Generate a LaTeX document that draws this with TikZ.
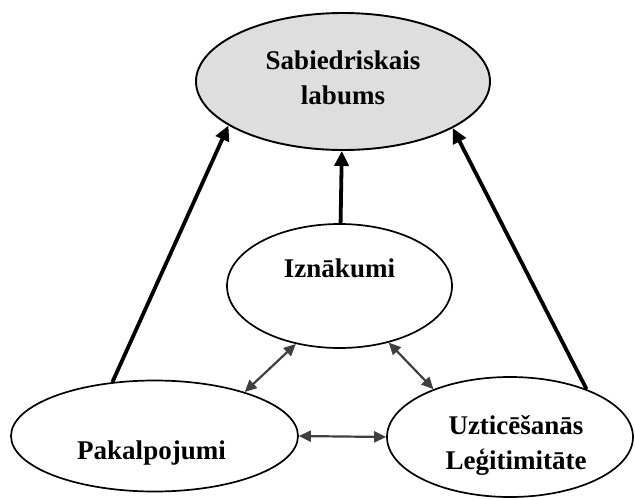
\documentclass[tikz,border=0pt]{standalone}
\usepackage{fontspec}
\setmainfont{Liberation Serif}
\usepackage{tikz}
\usetikzlibrary{arrows.meta,shapes.geometric}
\definecolor{ovalgray}{RGB}{222,222,222}
\definecolor{linkgray}{RGB}{64,64,64}

\begin{document}
\begin{tikzpicture}[x=1pt,y=-1pt,
  oval/.style={ellipse, draw, line width=1.7pt, inner sep=0pt},
  txt/.style={font=\fontsize{27}{35}\selectfont\bfseries, align=center, inner sep=0pt},
  mainarrow/.style={line width=3.8pt, -{Triangle[length=15pt,width=14pt]}},
  linkarrow/.style={linkgray, line width=2.2pt, {Triangle[length=12pt,width=11pt]}-{Triangle[length=12pt,width=11pt]}}]
\useasboundingbox (0,0) rectangle (635,499);
\node[oval, fill=ovalgray, line width=1.9pt, minimum width=294pt, minimum height=137pt] (sab) at (343,81.5) {};
\node[oval, minimum width=225pt, minimum height=124pt] (izn) at (339.5,286) {};
\node[oval, minimum width=287pt, minimum height=111pt] (pak) at (154.5,436) {};
\node[oval, minimum width=246pt, minimum height=120pt] (uzt) at (510,437) {};
\node[txt] (sabText) at ([yshift=4pt]sab.center) {Sabiedriskais\\labums};
\node[txt] (iznText) at ([yshift=18pt]izn.center) {Iznākumi};
\node[txt] (pakText) at ([xshift=-3pt,yshift=-17pt]pak.center) {Pakalpojumi};
\node[txt] (uztText) at ([xshift=6pt,yshift=-8pt]uzt.center) {Uzticēšanās\\Leģitimitāte};
\draw[mainarrow] (pak.128) -- (sab.-159);
\draw[mainarrow] (izn) -- (sab);
\draw[mainarrow] (uzt.32) -- (sab.-23);
\draw[linkarrow] (izn.233) -- (pak.26);
\draw[linkarrow] (izn.-49) -- (uzt.148);
\draw[linkarrow] (pak.east) -- (uzt.west);
\end{tikzpicture}
\end{document}
